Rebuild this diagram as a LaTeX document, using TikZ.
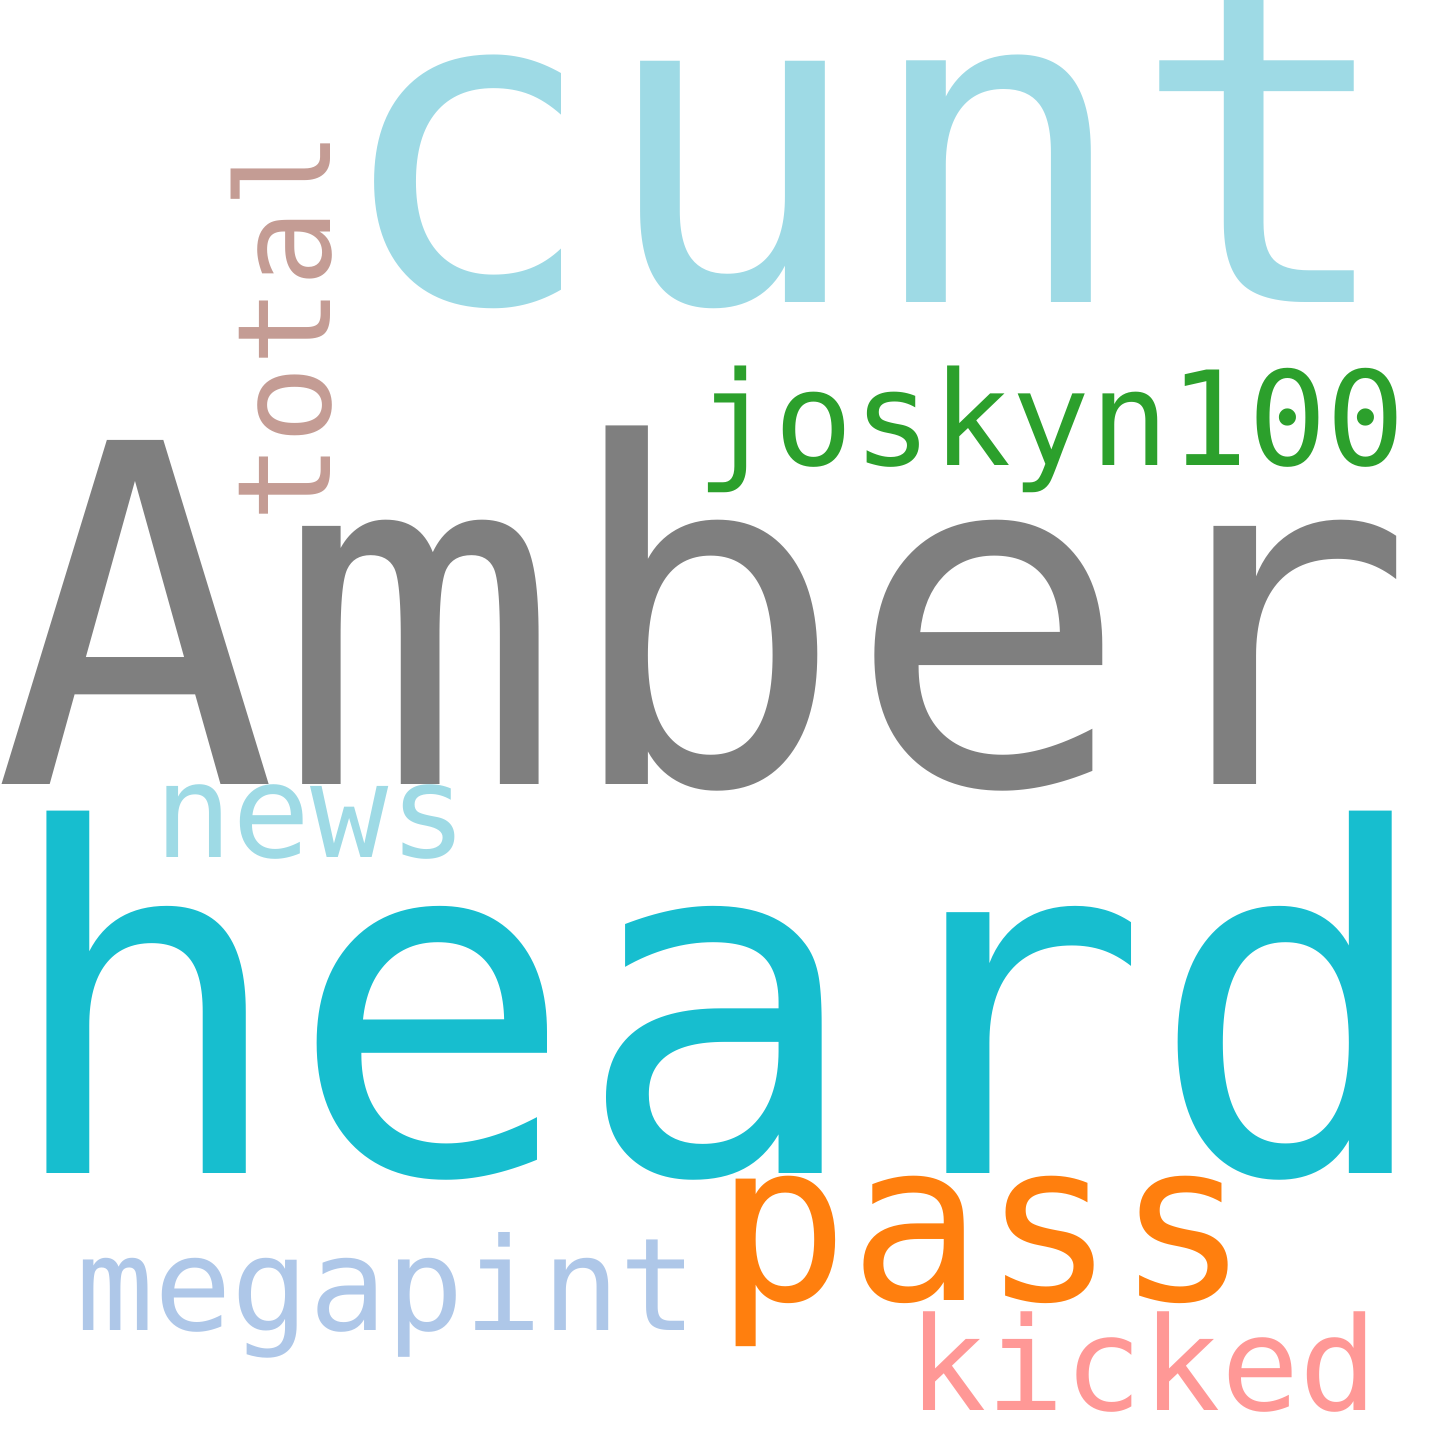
\documentclass[tikz,border=0pt]{standalone}
\usepackage{fontspec}
\setmonofont{DejaVu Sans Mono}
\definecolor{paleteal}{HTML}{9EDAE5}
\definecolor{midgray}{HTML}{7F7F7F}
\definecolor{deepteal}{HTML}{17BECF}
\definecolor{leafgreen}{HTML}{2CA02C}
\definecolor{dustrose}{HTML}{C49C94}
\definecolor{tangerine}{HTML}{FF7F0E}
\definecolor{skyblue}{HTML}{AEC7E8}
\definecolor{salmon}{HTML}{FF9896}
\newcommand{\wsize}[1]{\ttfamily\fontsize{#1}{#1}\selectfont}

\begin{document}
\begin{tikzpicture}[x=1pt,y=-1pt,
    word/.style={inner sep=0pt,anchor=base}]
   \useasboundingbox (0,0) rectangle (1440,1440);

   \node[word,font=\wsize{442},text=paleteal] (cunt) at (865,302) {cunt};
   \node[word,font=\wsize{472},text=midgray] (amber) at (704,784) {Amber};
   \node[word,font=\wsize{477},text=deepteal] (heard) at (719,1173) {heard};

   \node[word,font=\wsize{131},text=leafgreen] (joskyn) at (1051,465) {joskyn100};
   \node[word,font=\wsize{130},text=dustrose,rotate=90] (total) at (330,327) {total};
   \node[word,font=\wsize{130},text=paleteal] (news) at (311,857) {news};

   \node[word,font=\wsize{222},text=tangerine] (pass) at (983,1300) {pass};
   \node[word,font=\wsize{129},text=skyblue] (megapint) at (387,1330) {megapint};
   \node[word,font=\wsize{130},text=salmon] (kicked) at (1143,1410) {kicked};
\end{tikzpicture}
\end{document}
